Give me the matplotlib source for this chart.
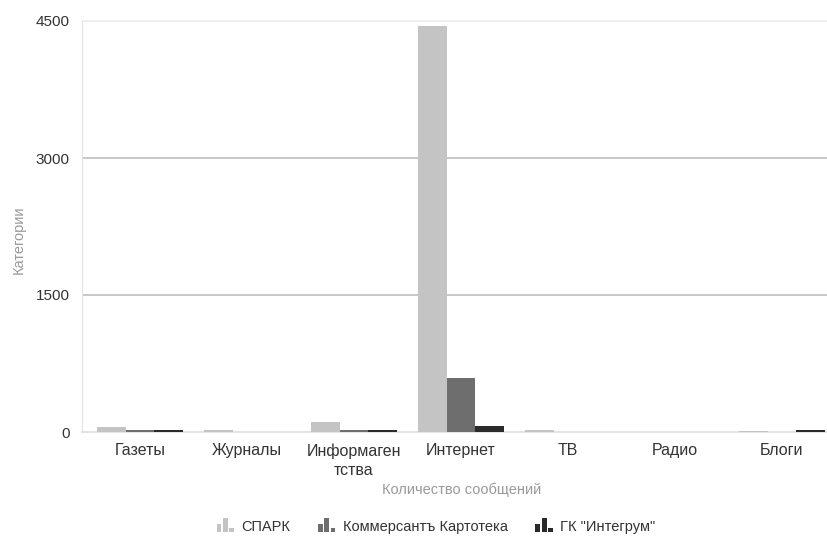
import matplotlib
matplotlib.use("Agg")
import matplotlib.pyplot as plt
import numpy as np
from matplotlib.legend_handler import HandlerBase
from matplotlib.patches import Rectangle

plt.rcParams["font.family"] = ["Liberation Sans", "DejaVu Sans"]

categories = ["Газеты", "Журналы", "Информаген\nтства", "Интернет", "ТВ", "Радио", "Блоги"]
series = ["СПАРК", "Коммерсантъ Картотека", "ГК \"Интегрум\""]
spark = [55, 18, 110, 4440, 18, 5, 15]
kommersant = [20, 5, 20, 590, 5, 3, 5]
integrum = [22, 3, 22, 62, 3, 2, 22]
yticks = [0, 1500, 3000, 4500]

COLORS = ["#c4c4c4", "#6e6e6e", "#2a2a2a"]
INK = "#333333"
MUTED = "#9a9a9a"


class BarsIcon(HandlerBase):
    def create_artists(self, legend, orig_handle, xdescent, ydescent,
                       width, height, fontsize, trans):
        color = orig_handle.get_facecolor()
        bw = width / 3.6
        arts = []
        for i, h in enumerate([0.55, 1.0, 0.3]):
            r = Rectangle((-xdescent + i * bw * 1.3, -ydescent), bw, height * h * 1.2,
                          facecolor=color, edgecolor="none", transform=trans)
            arts.append(r)
        return arts


fig = plt.figure(figsize=(8.28, 5.4), dpi=100, facecolor="white")
ax = fig.add_axes([82 / 828, 1 - 432 / 540, 1 - 82 / 828, (432 - 21) / 540])

x = np.arange(len(categories))
w = 0.27
for i, (vals, c) in enumerate(zip([spark, kommersant, integrum], COLORS)):
    ax.bar(x + (i - 1) * w, vals, width=w, color=c, zorder=3)

ax.set_xlim(-0.542, 6.43)
ax.set_ylim(0, 4500)
ax.set_yticks(yticks)
ax.set_yticklabels([str(v) for v in yticks])
ax.set_xticks(x)
ax.set_xticklabels(categories, linespacing=1.4)
ax.tick_params(length=0, colors=INK)
ax.tick_params(axis="y", labelsize=11, pad=9)
ax.tick_params(axis="x", labelsize=11.5, pad=8)

for v in yticks[1:-1]:
    ax.axhline(v, color="#bdbdbd", linewidth=1.2, zorder=1)
ax.axhline(4500, color="#ebebeb", linewidth=1.2, zorder=1, clip_on=False)

for side in ("top", "right"):
    ax.spines[side].set_visible(False)
ax.spines["left"].set_color("#e3e3e3")
ax.spines["bottom"].set_color("#e3e3e3")
ax.spines["bottom"].set_linewidth(1.5)

ax.set_xlabel("Количество сообщений", color=MUTED, fontsize=10.5)
ax.xaxis.set_label_coords((462 - 82) / 746, -(483 - 432) / 411)
ax.set_ylabel("Категории", color=MUTED, fontsize=10.5)
ax.yaxis.set_label_coords(-(82 - 26) / 746, (432 - 240) / 411)

handles = [Rectangle((0, 0), 1, 1, facecolor=c) for c in COLORS]
leg = fig.legend(handles, series, loc="center", bbox_to_anchor=(436 / 828, 1 - 527 / 540),
                 ncol=3, frameon=False, fontsize=10.5, handlelength=1.2, handleheight=0.9,
                 handletextpad=0.5, columnspacing=1.9,
                 handler_map={Rectangle: BarsIcon()})
for t in leg.get_texts():
    t.set_color(INK)

fig.savefig("out.png", dpi=100, facecolor="white")
